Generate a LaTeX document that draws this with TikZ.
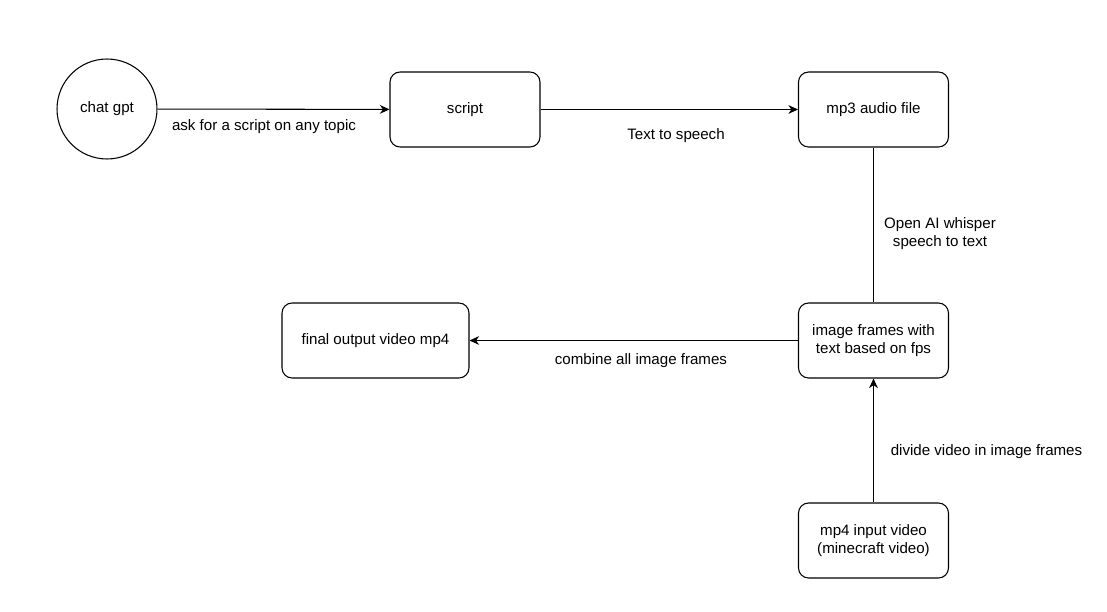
\documentclass[tikz,border=0pt]{standalone}
\usepackage{fontspec}
\setmainfont{Liberation Sans}
\usetikzlibrary{arrows.meta,positioning}

\tikzset{
	stepbox/.style={draw,rounded corners=0.2cm,minimum width=3cm,minimum height=1.5cm,align=center,line width=0.6pt},
	flow/.style={-{Stealth[length=5.5pt,width=5pt]},line width=0.6pt},
	lbl/.style={align=center,yshift=-1.5pt}
}

\begin{document}
\begin{tikzpicture}[x=0.02cm,y=-0.02cm,font=\fontsize{8.6}{10.2}\selectfont]
			\useasboundingbox (0,0) rectangle (1107,612);
			\begin{scope}
				\node[draw,circle,minimum size=2cm,line width=0.6pt] (gpt) at (107,109) {chat gpt};
				\node[stepbox] (script) at (465,109.5) {script};
				\node[stepbox] (mp3) at (873.5,109.5) {mp3 audio file};
				\node[stepbox] (frames) at (873.5,340.5) {image frames with\\text based on fps};
				\node[stepbox,minimum width=3.74cm] (final) at (375.5,340.5) {final output video mp4};
				\node[stepbox] (input) at (873.5,540.5) {mp4 input video\\(minecraft video)};
				% connectors
				\draw[flow] (gpt) -- (script);
				\draw[flow] (script) -- (mp3);
				\draw[line width=0.6pt] (mp3) -- (frames);
				\draw[flow] (frames) -- (final);
				\draw[flow] (input) -- (frames);
				% labels
				\node[lbl] (l1) at (264,124) {ask for a script on any topic};
				\node[lbl] (l2) at (676,133) {Text to speech};
				\node[lbl] (l3) at (940,231) {Open AI whisper\\speech to text};
				\node[lbl] (l4) at (641,358) {combine all image frames};
				\node[lbl] (l5) at (986.5,449) {divide video in image frames};
			\end{scope}
		\end{tikzpicture}
\end{document}
